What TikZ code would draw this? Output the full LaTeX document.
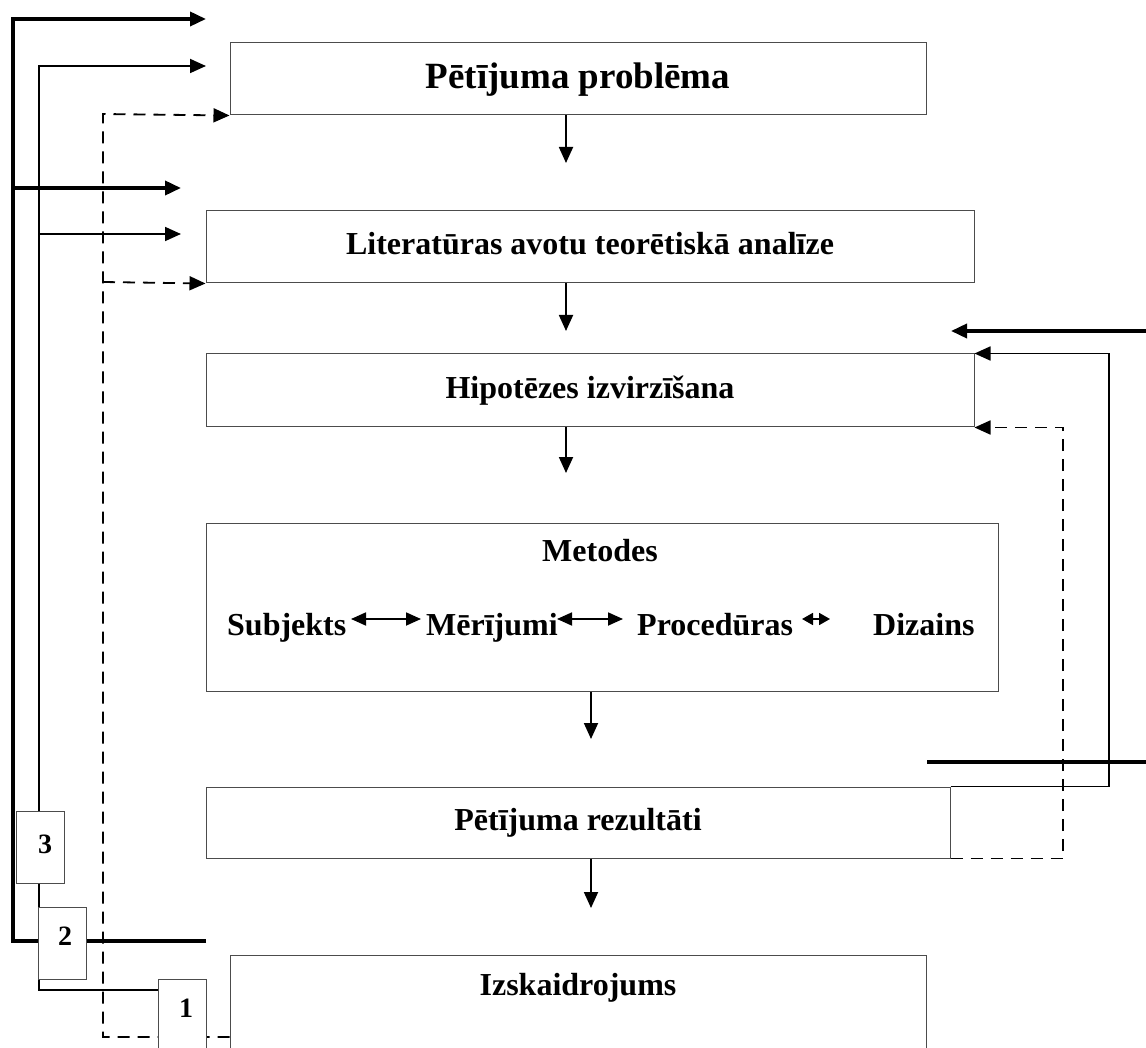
\documentclass[tikz,border=0pt]{standalone}
\usepackage{fontspec}
\setmainfont{Liberation Serif}
\usetikzlibrary{arrows.meta}
\newcommand\myTitleFont{\fontsize{37}{42}\selectfont\bfseries}
\newcommand\myLabelFont{\fontsize{32}{36}\selectfont\bfseries}
\newcommand\myNumFont{\fontsize{28}{32}\selectfont\bfseries}
\begin{document}
\begin{tikzpicture}[x=1pt,y=-1pt,
  box/.style={draw=black!70, line width=1pt, inner sep=0pt, font=\myLabelFont,
    text height=22.4pt, text depth=6.4pt},
  numbox/.style={draw=black!70, line width=1pt, fill=white, inner sep=0pt,
    minimum width=48pt, minimum height=72pt},
  lbl/.style={inner sep=0pt, font=\myLabelFont},
  num/.style={inner sep=0pt, font=\myNumFont},
  tip/.style={-{Triangle[length=16pt,width=14pt]}},
  flow/.style={tip, line width=1.8pt},
  thinline/.style={line width=1.8pt},
  thickline/.style={line width=3.6pt},
  dashline/.style={line width=1.8pt, dash pattern=on 12pt off 8pt},
  dbl/.style={{Triangle[length=15pt,width=13pt]}-{Triangle[length=15pt,width=13pt]}, line width=1.8pt},
  dblshort/.style={{Triangle[length=11pt,width=12pt]}-{Triangle[length=11pt,width=12pt]}, line width=1.8pt}
]
\useasboundingbox (0,0) rectangle (1146,1048);
\clip (0,0) rectangle (1146,1048);

% main boxes
\node[box, minimum width=696pt, minimum height=72pt, font=\myTitleFont,
  text height=26pt, text depth=7.4pt] (prob) at (578,79) {Pētījuma problēma};
\node[box, minimum width=768pt, minimum height=72pt] (lit) at (590,247) {Literatūras avotu teorētiskā analīze};
\node[box, minimum width=768pt, minimum height=73pt] (hyp) at (590,390.5) {Hipotēzes izvirzīšana};
\node[box, minimum width=792pt, minimum height=168pt] (met) at (602,607) {};
\node[box, minimum width=744pt, minimum height=71pt] (res) at (578,822.5) {Pētījuma rezultāti};
\node[box, minimum width=696pt, minimum height=150pt, anchor=north] (izs) at (578,955) {};

% texts inside Metodes and Izskaidrojums
\node[lbl, anchor=base] (mettitle) at (600,561) {Metodes};
\node[lbl, anchor=base west] (subj) at (227,635) {Subjekts};
\node[lbl, anchor=base west] (mer) at (426,635) {Mērījumi};
\node[lbl, anchor=base west] (proc) at (637,635) {Procedūras};
\node[lbl, anchor=base west] (diz) at (873,635) {Dizains};
\node[lbl, anchor=base] (izstext) at (578,995) {Izskaidrojums};

\draw[dbl] (351,619) -- (421,619);
\draw[dbl] (557,619) -- (623,619);
\draw[dblshort] (802,619) -- (830,619);

% vertical flow arrows
\coordinate (t1) at (566,163);
\coordinate (t2) at (566,331);
\coordinate (t3) at (566,473);
\coordinate (t4) at (591,739);
\coordinate (t5) at (591,908);
\draw[flow] (prob.south -| t1) -- (t1);
\draw[flow] (lit.south -| t2) -- (t2);
\draw[flow] (hyp.south -| t3) -- (t3);
\draw[flow] (met.south -| t4) -- (t4);
\draw[flow] (res.south -| t5) -- (t5);

% left side feedback lines
\coordinate (kA) at (206,941);
\coordinate (kTop) at (206,19);
\coordinate (kMid) at (181,188);
\draw[thickline, tip] (kA) -- (13,941) -- (13,19) -- (kTop);
\draw[thickline, tip] (13,188) -- (kMid);

\coordinate (sA) at (206,990);
\coordinate (sTop) at (206,66);
\coordinate (sMid) at (181,234);
\draw[thinline, tip] (sA) -- (39,990) -- (39,66) -- (sTop);
\draw[thinline, tip] (39,234) -- (sMid);

\draw[dashline, tip] (izs.north west) ++(0,82) -- (103,1037) -- (103,114) -- (prob.south west);
\draw[dashline, tip] (103,282) -- (lit.south west);

% right side feedback lines
\coordinate (rThickA) at (927,762);
\coordinate (rThickB) at (1146,762);
\coordinate (rThickC) at (1146,331);
\coordinate (rThickT) at (951,331);
\draw[thickline] (rThickA) -- (rThickB);
\draw[thickline, tip] (rThickC) -- (rThickT);

\coordinate (rs) at (1109,600);
\coordinate (rd) at (1063,600);
\draw[thinline, tip] (res.north east) -| (rs) |- (hyp.north east);
\draw[dashline, tip] (res.south east) -| (rd) |- (hyp.south east);

% numbered boxes (on top)
\node[numbox] (n3) at (40,847) {};
\node[numbox] (n2) at (62,943) {};
\node[numbox] (n1) at (182,1015) {};
\node[num, anchor=base] (d3) at (45,853) {3};
\node[num, anchor=base] (d2) at (65,945) {2};
\node[num, anchor=base] (d1) at (186,1017) {1};
\end{tikzpicture}
\end{document}
